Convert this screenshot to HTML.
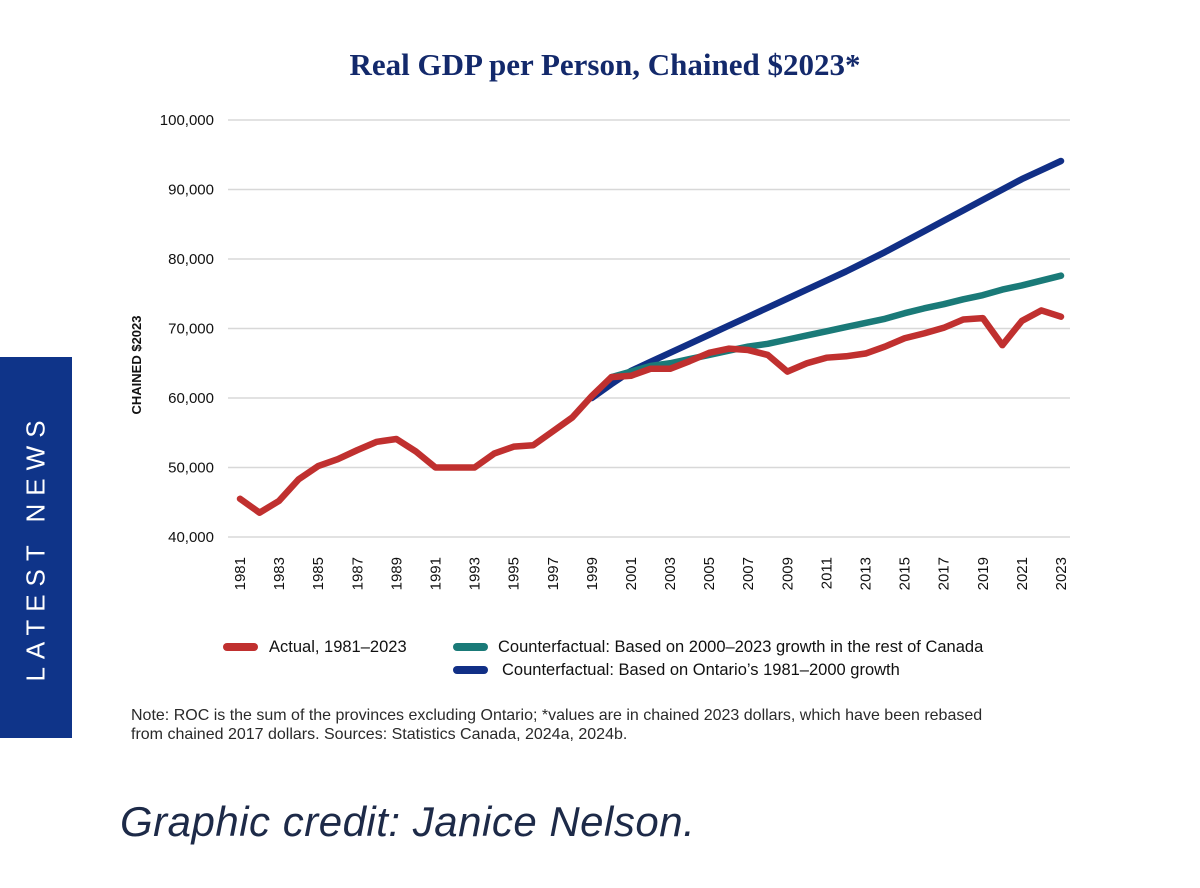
<!DOCTYPE html>
<html><head><meta charset="utf-8"><style>
body{margin:0;width:1200px;height:888px;background:#fff;overflow:hidden;position:relative;font-family:"Liberation Sans",sans-serif}
.side{position:absolute;left:0;top:357px;width:72px;height:381px;background:#0f3489}
.side span{position:absolute;left:36px;top:190px;transform:translate(-50%,-50%) rotate(-90deg);color:#fff;font-size:26px;letter-spacing:8px;white-space:nowrap}
.credit{position:absolute;left:120px;top:798px;font-size:42px;font-style:italic;color:#1d2a48;letter-spacing:0.5px}
.note{position:absolute;left:131px;top:706px;font-size:16px;color:#2a2a2a;line-height:19px}
</style></head><body>
<div class="side"><span>LATEST NEWS</span></div>
<svg id="c" width="1200" height="780" style="position:absolute;left:0;top:0">
<text x="605" y="75" text-anchor="middle" font-family="Liberation Serif,serif" font-weight="bold" font-size="31" fill="#13296b">Real GDP per Person, Chained $2023*</text>
<text transform="translate(141,365) rotate(-90)" text-anchor="middle" font-size="13" font-weight="bold" fill="#111">CHAINED $2023</text>
<g id="grid"></g><g id="lines"></g><g id="xt"></g>
<g>
<line x1="227" y1="647" x2="254" y2="647" stroke="#c0302f" stroke-width="8" stroke-linecap="round"/>
<text x="269" y="652" font-size="16.5" fill="#111">Actual, 1981–2023</text>
<line x1="457" y1="647" x2="484" y2="647" stroke="#1a7a78" stroke-width="8" stroke-linecap="round"/>
<text x="498" y="652" font-size="16.5" fill="#111">Counterfactual: Based on 2000–2023 growth in the rest of Canada</text>
<line x1="457" y1="670" x2="484" y2="670" stroke="#112f86" stroke-width="8" stroke-linecap="round"/>
<text x="502" y="675" font-size="16.5" fill="#111">Counterfactual: Based on Ontario’s 1981–2000 growth</text>
</g>
</svg>
<div class="note">Note: ROC is the sum of the provinces excluding Ontario; *values are in chained 2023 dollars, which have been rebased<br>from chained 2017 dollars. Sources: Statistics Canada, 2024a, 2024b.</div>
<div class="credit">Graphic credit: Janice Nelson.</div>
<script>
const yTicks=[40000,50000,60000,70000,80000,90000,100000];
const actualYears=[1981,1982,1983,1984,1985,1986,1987,1988,1989,1990,1991,1992,1993,1994,1995,1996,1997,1998,1999,2000,2001,2002,2003,2004,2005,2006,2007,2008,2009,2010,2011,2012,2013,2014,2015,2016,2017,2018,2019,2020,2021,2022,2023];
const actual=[45.5,43.5,45.2,48.3,50.2,51.2,52.5,53.7,54.1,52.3,50.0,50.0,50.0,52.0,53.0,53.2,55.2,57.2,60.3,63.0,63.2,64.2,64.2,65.3,66.5,67.1,66.9,66.2,63.8,65.0,65.8,66.0,66.4,67.4,68.6,69.3,70.1,71.3,71.5,67.6,71.1,72.6,71.7];
const tealYears=[2000,2001,2002,2003,2004,2005,2006,2007,2008,2009,2010,2011,2012,2013,2014,2015,2016,2017,2018,2019,2020,2021,2022,2023];
const teal=[63.0,63.8,64.6,65.0,65.6,66.2,66.8,67.4,67.8,68.4,69.0,69.6,70.2,70.8,71.4,72.2,72.9,73.5,74.2,74.8,75.6,76.2,76.9,77.6];
const blueYears=[1999,2000,2001,2002,2003,2004,2005,2006,2007,2008,2009,2010,2011,2012,2013,2014,2015,2016,2017,2018,2019,2020,2021,2022,2023];
const blue=[60.0,62.0,63.9,65.2,66.5,67.8,69.1,70.4,71.7,73.0,74.3,75.6,76.9,78.2,79.6,81.0,82.5,84.0,85.5,87.0,88.5,90.0,91.5,92.8,94.1];
const NS="http://www.w3.org/2000/svg";
const X=y=>240+(y-1981)*(1061-240)/42;
const Y=v=>537-(v-40000)*(417/60000);
function el(t,a,p){const e=document.createElementNS(NS,t);for(const k in a)e.setAttribute(k,a[k]);p.appendChild(e);return e;}
const g=document.getElementById('grid');
yTicks.forEach(v=>{
 const l=el('line',{x1:228,x2:1070,y1:Y(v),y2:Y(v),stroke:'#d8d8d8','stroke-width':1.5},g);
 
 
 const t=el('text',{x:214,y:Y(v)+5,'text-anchor':'end','font-size':15,fill:'#111'},g);
 t.textContent=v.toLocaleString('en-US');
 
 
});
const xt=document.getElementById('xt');
actualYears.filter(y=>y%2===1).forEach(y=>{
 const t=el('text',{transform:`translate(${X(y)+5},557) rotate(-90)`,'text-anchor':'end','font-size':15,fill:'#111'},xt);
 t.textContent=y;
 
 
});
const L=document.getElementById('lines');
function line(ys,vs,c,name){
 const p=el('polyline',{points:ys.map((y,i)=>X(y)+','+Y(vs[i]*1000)).join(' '),fill:'none',stroke:c,'stroke-width':6.5,'stroke-linejoin':'round','stroke-linecap':'round'},L);
 
 
}
line(blueYears,blue,'#112f86','ontario-growth-line');
line(tealYears,teal,'#1a7a78','roc-growth-line');
line(actualYears,actual,'#c0302f','actual-line');
</script>
</body></html>
